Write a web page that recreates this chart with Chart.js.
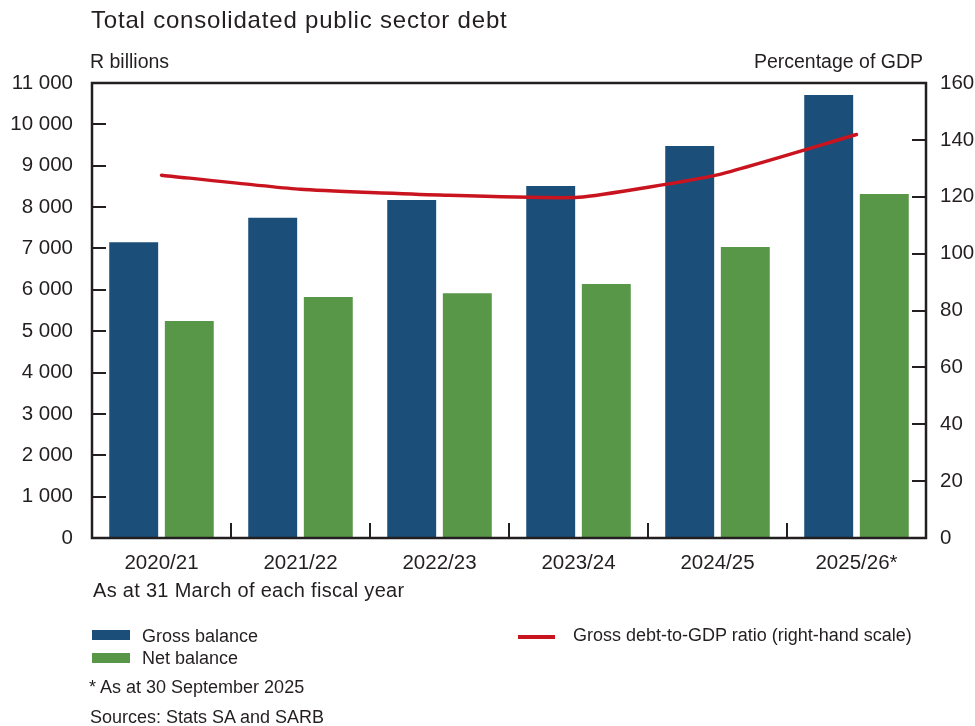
<!DOCTYPE html>
<html>
<head>
<meta charset="utf-8">
<title>Total consolidated public sector debt</title>
<script src="https://cdn.jsdelivr.net/npm/chart.js@4.4.1/dist/chart.umd.min.js"></script>
<style>
  html, body { margin: 0; padding: 0; background: #ffffff; }
  #wrap {
    position: relative; width: 975px; height: 726px; overflow: hidden;
    font-family: "Liberation Sans", Arial, Helvetica, sans-serif; color: #231f20;
  }
  #chart { position: absolute; left: 0; top: 0; }
  .txt { position: absolute; white-space: nowrap; line-height: 1; }
  .swatch { position: absolute; }
</style>
</head>
<body>
<div id="wrap">
  <canvas id="chart" width="975" height="726"></canvas>
  <div class="txt" style="left:91px; top:8px; font-size:24px; letter-spacing:0.8px;">Total consolidated public sector debt</div>
  <div class="txt" style="left:90px; top:52px; font-size:19.5px;">R billions</div>
  <div class="txt" style="right:52px; top:52px; font-size:19.5px;">Percentage of GDP</div>
  <div class="txt" style="left:93px; top:580px; font-size:20px; letter-spacing:0.3px;">As at 31 March of each fiscal year</div>
  <div id="legend"></div>
  <div class="txt" style="left:89px; top:678px; font-size:18px;">* As at 30 September 2025</div>
  <div class="txt" style="left:90px; top:708px; font-size:18px;">Sources: Stats SA and SARB</div>
</div>
<script>
// Fiscal years (as at 31 March), last one as at 30 September 2025
const categories = ['2020/21', '2021/22', '2022/23', '2023/24', '2024/25', '2025/26*'];

// R billions
const grossBalance = [7150, 7740, 8170, 8510, 9475, 10710];
const netBalance   = [5245, 5825, 5920, 6140, 7035, 8315];

// Percentage of GDP (right-hand scale)
const debtToGdp = [127.6, 122.6, 120.6, 119.8, 127.7, 141.9];

// Axis ranges and tick steps
const leftAxisRange  = [0, 11000];
const leftAxisStep   = 1000;
const rightAxisRange = [0, 160];
const rightAxisStep  = 20;

const COLORS = { gross: '#1b4f79', net: '#589747', ratio: '#c9141f', ink: '#231f20' };

const seriesLabels = {
  gross: 'Gross balance',
  net: 'Net balance',
  ratio: 'Gross debt-to-GDP ratio (right-hand scale)'
};

const fmtThousands = v => String(v).replace(/\B(?=(\d{3})+(?!\d))/g, ' ');

// Plot frame with inward tick marks on all three axes
const framePlugin = {
  id: 'frame',
  afterDatasetsDraw(chart) {
    const { ctx, chartArea: a, scales } = chart;
    ctx.save();
    ctx.strokeStyle = COLORS.ink;
    ctx.lineCap = 'butt';

    ctx.lineWidth = 2;
    scales.y.ticks.forEach(t => {
      const py = Math.round(scales.y.getPixelForValue(t.value));
      ctx.beginPath(); ctx.moveTo(a.left, py); ctx.lineTo(a.left + 14, py); ctx.stroke();
    });
    scales.y1.ticks.forEach(t => {
      const py = Math.round(scales.y1.getPixelForValue(t.value));
      ctx.beginPath(); ctx.moveTo(a.right, py); ctx.lineTo(a.right - 14, py); ctx.stroke();
    });
    for (let i = 0; i < categories.length - 1; i++) {
      const px = Math.round((scales.x.getPixelForValue(i) + scales.x.getPixelForValue(i + 1)) / 2);
      ctx.beginPath(); ctx.moveTo(px, a.bottom); ctx.lineTo(px, a.bottom - 15); ctx.stroke();
    }

    ctx.lineWidth = 2.5;
    ctx.strokeRect(a.left, a.top, a.right - a.left, a.bottom - a.top);
    ctx.restore();
  }
};

const tickFont = { family: '"Liberation Sans", Arial, sans-serif', size: 20.5 };
const noGrid = { display: false, drawTicks: false };

const chart = new Chart(document.getElementById('chart'), {
  data: {
    labels: categories,
    datasets: [
      {
        type: 'line', label: seriesLabels.ratio, data: debtToGdp, yAxisID: 'y1', order: 0,
        borderColor: COLORS.ratio, backgroundColor: COLORS.ratio, borderWidth: 3.5,
        borderCapStyle: 'round', borderJoinStyle: 'round', pointRadius: 0, tension: 0.15, fill: false
      },
      {
        type: 'bar', label: seriesLabels.gross, data: grossBalance, yAxisID: 'y', order: 1,
        backgroundColor: COLORS.gross, categoryPercentage: 0.80, barPercentage: 0.88
      },
      {
        type: 'bar', label: seriesLabels.net, data: netBalance, yAxisID: 'y', order: 1,
        backgroundColor: COLORS.net, categoryPercentage: 0.80, barPercentage: 0.88
      }
    ]
  },
  options: {
    responsive: false,
    animation: false,
    layout: { padding: { top: 83, left: 0, right: 0, bottom: 0 } },
    plugins: { legend: { display: false }, tooltip: { enabled: false } },
    scales: {
      x: {
        type: 'category', offset: true,
        grid: noGrid, border: { display: false },
        ticks: { color: COLORS.ink, font: tickFont, padding: 13, maxRotation: 0, autoSkip: false },
        afterFit: s => { s.height = 188; }
      },
      y: {
        position: 'left', min: leftAxisRange[0], max: leftAxisRange[1],
        grid: noGrid, border: { display: false },
        ticks: { stepSize: leftAxisStep, color: COLORS.ink, font: tickFont, padding: 19,
                 callback: v => fmtThousands(v) },
        afterFit: s => { s.width = 92; }
      },
      y1: {
        position: 'right', min: rightAxisRange[0], max: rightAxisRange[1],
        grid: noGrid, border: { display: false },
        ticks: { stepSize: rightAxisStep, color: COLORS.ink, font: tickFont, padding: 14 },
        afterFit: s => { s.width = 49; }
      }
    }
  },
  plugins: [framePlugin]
});

// Legend built from the chart's own datasets
(function buildLegend() {
  const host = document.getElementById('legend');
  const place = {
    [seriesLabels.gross]: { sx: 92, sy: 630, w: 38, h: 10, tx: 142, ty: 627 },
    [seriesLabels.net]:   { sx: 92, sy: 653, w: 38, h: 10, tx: 142, ty: 649 },
    [seriesLabels.ratio]: { sx: 518, sy: 634.5, w: 37, h: 4, tx: 573, ty: 626 }
  };
  chart.data.datasets.forEach(ds => {
    const p = place[ds.label];
    const sw = document.createElement('div');
    sw.className = 'swatch';
    sw.style.cssText = `left:${p.sx}px;top:${p.sy}px;width:${p.w}px;height:${p.h}px;background:${ds.type === 'line' ? ds.borderColor : ds.backgroundColor};`;
    host.appendChild(sw);
    const t = document.createElement('div');
    t.className = 'txt';
    t.style.cssText = `left:${p.tx}px;top:${p.ty}px;font-size:18px;`;
    t.textContent = ds.label;
    host.appendChild(t);
  });
})();
</script>
</body>
</html>
